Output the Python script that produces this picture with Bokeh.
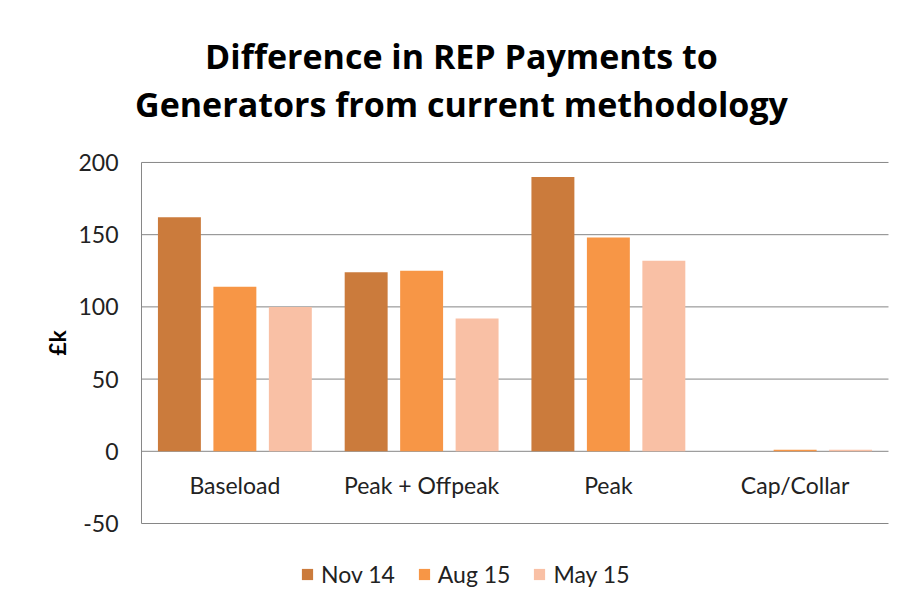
import math
from bokeh.plotting import figure
from bokeh.models import (Range1d, Legend, LegendItem, Label, LabelSet, ColumnDataSource)
from bokeh.core.properties import value
from bokeh.embed import file_html
from bokeh.resources import INLINE

categories = ["Baseload", "Peak + Offpeak", "Peak", "Cap/Collar"]
series_names = ["Nov 14", "Aug 15", "May 15"]
nov14 = [162, 124, 190, 0]
aug15 = [114, 125, 148, 1]
may15 = [100, 92, 132, 1]
y_ticks = [-50, 0, 50, 100, 150, 200]
y_tick_labels = ["-50", "0", "50", "100", "150", "200"]
title_lines = ["Difference in REP Payments to", "Generators from current methodology"]
y_title = "£k"

colors = ["#CB7B3C", "#F79646", "#F9C0A5"]
FONT = "Lato"
TFONT = "Open Sans"
TXT = "#222222"
AXIS = "#868686"

n = len(categories)
centers = [i + 0.5 for i in range(n)]

bars = ColumnDataSource(dict(cat=categories, xc=centers, nov14=nov14, aug15=aug15,
                             may15=may15, base=[0] * n))
grid = ColumnDataSource(dict(y=y_ticks, lab=y_tick_labels, x0=[0] * len(y_ticks),
                             x1=[n] * len(y_ticks)))
vaxis = ColumnDataSource(dict(x=[0], lo=[min(y_ticks)], hi=[max(y_ticks)]))

# one frame covering the whole canvas; ranges chosen so the plot area sits where the
# reference draws it (layout only)
p = figure(frame_width=898, frame_height=599, output_backend="svg", toolbar_location=None,
           x_range=Range1d(-0.75502, 4.05355), y_range=Range1d(-103.31, 311.46),
           x_axis_location=None, y_axis_location=None,
           min_border_left=0, min_border_right=0, min_border_top=1, min_border_bottom=0)
p.xgrid.visible = False
p.ygrid.visible = False
p.outline_line_color = None
p.background_fill_color = "white"
p.border_fill_color = "white"

# gridlines and value axis line
p.segment(x0="x0", x1="x1", y0="y", y1="y", source=grid, line_color=AXIS, line_width=1)
p.segment(x0="x", x1="x", y0="lo", y1="hi", source=vaxis, line_color=AXIS, line_width=1)

offsets = [-0.297, 0.0, 0.297]
fields = ["nov14", "aug15", "may15"]
renderers = []
for f, off, c in zip(fields, offsets, colors):
    bars.data[f + "_x"] = [x + off for x in centers]
    r = p.vbar(x=f + "_x", top=f, width=0.23, bottom=0, source=bars,
               fill_color=c, line_color=None)
    renderers.append(r)

# tick labels
p.add_layout(LabelSet(x="x0", y="y", text="lab", source=grid, x_offset=-23,
                      text_align="right", text_baseline="middle",
                      text_font=value(FONT), text_font_size="23px", text_color=TXT))
# axis title
p.add_layout(Label(x=0, y=(min(y_ticks) + max(y_ticks)) / 2, x_offset=-84, text=y_title,
                   angle=math.pi / 2, text_align="center", text_baseline="middle",
                   text_font=FONT, text_font_style="bold", text_font_size="23px",
                   text_color="#000000"))
# category labels just below the zero line
p.add_layout(LabelSet(x="xc", y="base", text="cat", source=bars, y_offset=-34,
                      text_align="center", text_baseline="middle",
                      text_font=value(FONT), text_font_size="23px", text_color=TXT))

# chart title (two lines)
for txt, yy in zip(title_lines, [545, 497]):
    p.add_layout(Label(x=461, y=yy, x_units="screen", y_units="screen", text=txt,
                       text_align="center", text_baseline="middle",
                       text_font=TFONT, text_font_style="bold", text_font_size="34px",
                       text_color="#000000"))

legend = Legend(items=[LegendItem(label=s, renderers=[r]) for s, r in zip(series_names, renderers)],
                orientation="horizontal", location=(300, 12),
                label_text_font=FONT, label_text_font_size="23px",
                label_text_color=TXT, label_height=24,
                glyph_width=14, glyph_height=14, spacing=22,
                border_line_color=None, background_fill_alpha=0, margin=0,
                padding=0, label_standoff=7)
p.add_layout(legend, "center")

open("out.html", "w").write(file_html(p, INLINE))
